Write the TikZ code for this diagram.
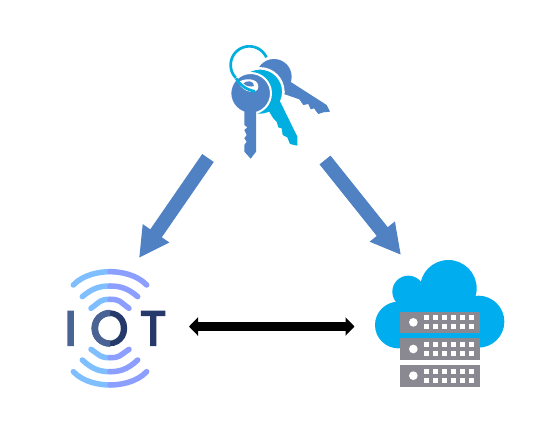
\documentclass[tikz,border=0pt]{standalone}
\usepackage{fontspec}
\setmainfont{Poppins}[FakeBold=4]
\usetikzlibrary{arrows.meta}
\definecolor{keyblue}{HTML}{5083C5}
\definecolor{keycyan}{HTML}{00AEDF}
\definecolor{arrowblue}{HTML}{4F81C3}
\definecolor{cloudblue}{HTML}{00AEEF}
\definecolor{servergrey}{HTML}{8A8992}
\definecolor{arcleft}{HTML}{7FBFFF}
\definecolor{arcright}{HTML}{8C9EFF}
\definecolor{iotlight}{HTML}{4A6395}
\definecolor{iotdark}{HTML}{25396B}
\tikzset{
  keyarrow/.style={draw=arrowblue,line width=14pt,-{Triangle[length=30pt,width=30pt]}},
  linkarrow/.style={draw=black,line width=9pt,{Triangle[length=9pt,width=18pt]}-{Triangle[length=9pt,width=18pt]}},
  wifi/.style={line width=5.5pt,line cap=round},
  icon/.style={x=1pt,y=-1pt,scale=1/3},
  rack/.style={fill=servergrey},
  led/.style={fill=white},
}
\newcommand{\rackunit}[1]{%
  \fill[rack] (105,#1) rectangle (345,#1+65);
  \fill[led] (145,#1+32) circle (13);
  \foreach \sx in {185,212,239,266,292,318}{
    \fill[led] (\sx-7.5,#1+11) rectangle (\sx+7.5,#1+26);
    \fill[led] (\sx-7.5,#1+38) rectangle (\sx+7.5,#1+53);
  }}
\begin{document}
\begin{tikzpicture}[x=1pt,y=-1pt]
\useasboundingbox (0,0) rectangle (536,424);
\fill[white] (0,0) rectangle (536,424);
% keys
\begin{scope}[shift={(210,30)},icon]
  \fill[keyblue] (192,140) circle (53);
  \fill[keyblue] (236,152) -- (350,225) -- (360,245) -- (340,247) -- (325,252) -- (312,235) -- (302,238) -- (295,222) -- (280,225) -- (268,208) -- (222,192) -- cycle;
  \fill[keycyan,draw=white,line width=2.5pt] (150,185) circle (70);
  \fill[keycyan] (208,210) -- (262,320) -- (262,347) -- (240,342) -- (232,322) -- (218,315) -- (215,295) -- (205,292) -- (200,275) -- (190,265) -- (165,225) -- cycle;
  \draw[keycyan,line width=2.7pt] plot[smooth,domain=24:225,samples=30] ({118+56*cos(\x)},{105-56*sin(\x)});
  \fill[keyblue,draw=white,line width=2pt] (122,190) circle (61);
  \fill[keyblue] (103,235) -- (103,285) -- (112,292) -- (103,300) -- (110,315) -- (103,325) -- (110,335) -- (103,345) -- (103,365) -- (122,386) -- (138,365) -- (138,235) -- cycle;
  \fill[white] (85,158) .. controls (95,145) and (145,140) .. (145,170) .. controls (145,195) and (100,190) .. (85,158) -- cycle;
  \fill[keyblue] (100,160) .. controls (110,150) and (132,152) .. (132,168) .. controls (120,172) and (108,168) .. (100,160) -- cycle;
  \draw[keycyan,line width=2.7pt] (78,145) .. controls (90,165) and (110,180) .. (135,184);
\end{scope}
% IOT
\begin{scope}[shift={(55,260)},icon]
  \foreach \ax/\ay/\pk in {55/75/35,82/110/78,108/145/118}{
    \draw[wifi,arcleft] (\ax,\ay) .. controls (\ax+30,{\pk+(\ay-\pk)*0.2}) and (135,\pk) .. (165,\pk);
    \draw[wifi,arcright] (165,\pk) .. controls (195,\pk) and ({330-\ax-30},{\pk+(\ay-\pk)*0.2}) .. ({330-\ax},\ay);
  }
  \foreach \ax/\ay/\pk in {55/335/375,82/300/335,108/268/293}{
    \draw[wifi,arcleft] (\ax,\ay) .. controls (\ax+30,{\pk+(\ay-\pk)*0.2}) and (135,\pk) .. (165,\pk);
    \draw[wifi,arcright] (165,\pk) .. controls (195,\pk) and ({330-\ax-30},{\pk+(\ay-\pk)*0.2}) .. ({330-\ax},\ay);
  }
\end{scope}
\node[inner sep=0pt,anchor=center,font=\fontsize{48}{48}\selectfont,text=iotdark] (iot) at (115.5,328.3) {\textcolor{iotlight}{I}\hspace{14pt}O\hspace{12pt}T};
\begin{scope}
  \clip (88,305) rectangle (110,352);
  \draw[iotlight,line width=6.5pt] (110,328.3) circle (15.3);
\end{scope}
% cloud
\begin{scope}[shift={(365,250)},icon]
  \fill[cloudblue] (250,115) circle (85) (130,125) circle (48) (100,225) circle (70) (340,215) circle (78);
  \fill[cloudblue] (100,150) rectangle (340,294);
  \rackunit{185}
  \rackunit{265}
  \rackunit{345}
\end{scope}
% connectors
\coordinate (keysL) at (208,158);
\coordinate (keysR) at (325,160);
\coordinate (iotTop) at (139,258);
\coordinate (cloudTop) at (401,255);
\coordinate (iotSide) at (189,326.5);
\coordinate (cloudSide) at (354.5,326.5);
\draw[keyarrow] (keysL) -- (iotTop);
\draw[keyarrow] (keysR) -- (cloudTop);
\draw[linkarrow] (iotSide) -- (cloudSide);
\end{tikzpicture}
\end{document}
